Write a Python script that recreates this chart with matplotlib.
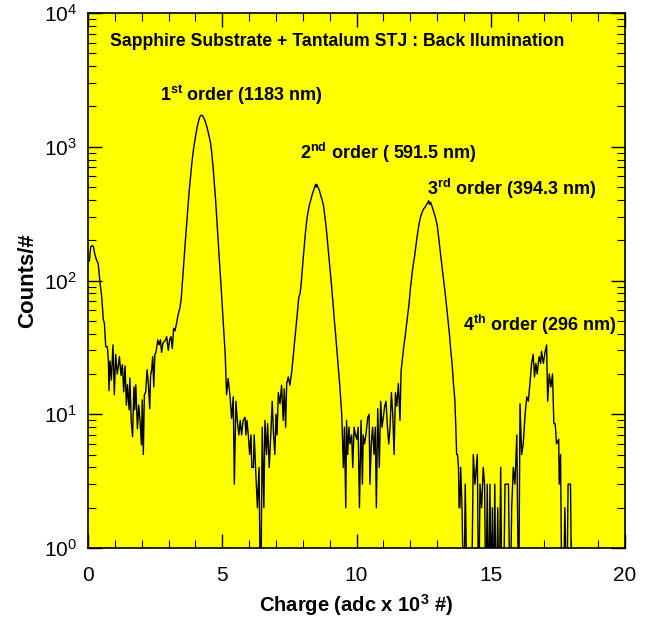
import numpy as np
import matplotlib
matplotlib.use("Agg")
import matplotlib.pyplot as plt
from matplotlib.ticker import LogLocator, MultipleLocator, NullFormatter

plt.rcParams['font.family'] = ['Liberation Sans', 'DejaVu Sans']
plt.rcParams['mathtext.fontset'] = 'custom'
plt.rcParams['mathtext.rm'] = 'Liberation Sans'
plt.rcParams['mathtext.bf'] = 'Liberation Sans:bold'
plt.rcParams['mathtext.it'] = 'Liberation Sans:italic'

# ---- data ----
charge = [
    0.05, 0.10, 0.15, 0.20, 0.26, 0.32, 0.38, 0.45, 0.51, 0.57, 0.61, 0.66, 0.72, 0.76, 0.78,
    0.82, 0.87, 0.93, 0.98, 1.03, 1.09, 1.13, 1.17, 1.23, 1.28, 1.33, 1.38, 1.43, 1.47, 1.53,
    1.56, 1.61, 1.66, 1.71, 1.74, 1.78, 1.84, 1.89, 1.94, 1.99, 2.02, 2.06, 2.10, 2.15, 2.20,
    2.25, 2.30, 2.33, 2.37, 2.41, 2.45, 2.49, 2.53, 2.60, 2.65, 2.70, 2.74, 2.79, 2.84, 2.89,
    2.93, 2.99, 3.04, 3.09, 3.14, 3.19,
    3.24, 3.30, 3.36, 3.42, 3.47, 3.52, 3.57, 3.62, 3.67, 3.72, 3.77, 3.82, 3.87, 3.92, 3.97,
    4.02, 4.07, 4.12, 4.17, 4.21, 4.26, 4.31, 4.36, 4.41, 4.46, 4.51, 4.56, 4.61, 4.66, 4.71,
    4.76, 4.81, 4.86, 4.91, 4.96, 5.01, 5.06, 5.11,
    5.16, 5.22, 5.29, 5.35, 5.41, 5.45, 5.51, 5.56, 5.62, 5.67, 5.72, 5.78, 5.85, 5.88, 5.92,
    5.97, 6.02, 6.07, 6.10, 6.16, 6.19, 6.24, 6.31, 6.37, 6.43, 6.49, 6.55, 6.59, 6.65, 6.69,
    6.75, 6.82, 6.86, 6.91, 6.96, 7.00, 7.04, 7.09, 7.15, 7.21, 7.27, 7.31, 7.36, 7.40, 7.46,
    7.52, 7.59,
    7.65, 7.70, 7.75, 7.80, 7.85, 7.90, 7.95, 8.00, 8.05, 8.10, 8.15, 8.20, 8.25, 8.30, 8.35,
    8.40, 8.45, 8.48, 8.50, 8.53, 8.57, 8.62, 8.67, 8.72, 8.77, 8.82, 8.87, 8.92, 8.97, 9.02,
    9.07, 9.12, 9.17, 9.22, 9.27, 9.32, 9.37, 9.42,
    9.45, 9.51, 9.55, 9.60, 9.63, 9.67, 9.72, 9.76, 9.82, 9.86, 9.91, 9.96, 10.01, 10.06, 10.11,
    10.17, 10.22, 10.25, 10.30, 10.35, 10.42, 10.47, 10.50, 10.55, 10.60, 10.65, 10.70, 10.74,
    10.79, 10.85, 10.90, 10.95, 11.00, 11.05, 11.10, 11.15, 11.20, 11.25, 11.30, 11.35, 11.40,
    11.45, 11.50, 11.56, 11.62, 11.66,
    11.71, 11.76, 11.81, 11.86, 11.91, 11.96, 12.01, 12.06, 12.11, 12.16, 12.21, 12.26, 12.31,
    12.36, 12.41, 12.46, 12.51, 12.56, 12.61, 12.66, 12.69, 12.72, 12.76, 12.81, 12.86, 12.91,
    12.96, 13.01, 13.06, 13.11, 13.16, 13.21, 13.26, 13.31, 13.36, 13.41, 13.46, 13.51, 13.56,
    13.61, 13.66,
    13.70, 13.73, 13.76, 13.80, 13.82, 13.85, 13.88, 13.93, 14.00, 14.05, 14.13, 14.20, 14.28,
    14.35, 14.41, 14.50, 14.55, 14.60, 14.66, 14.72, 14.77, 14.82, 14.87, 14.92, 14.97, 15.02,
    15.06, 15.10, 15.15, 15.20, 15.26, 15.31, 15.37, 15.42, 15.47, 15.53, 15.60, 15.66, 15.72,
    15.78, 15.84, 15.90, 15.97, 16.04,
    16.09, 16.15, 16.21, 16.28, 16.34, 16.40, 16.46, 16.52, 16.58, 16.63, 16.68, 16.73, 16.80,
    16.86, 16.89, 16.96, 17.02, 17.08, 17.12, 17.18, 17.24, 17.30, 17.35, 17.40, 17.45, 17.53,
    17.55, 17.60, 17.65, 17.70, 17.76, 17.83, 17.88, 17.97, 18.02,
]
counts = [
    140, 178, 182, 180, 155, 142, 134, 95, 76, 51, 48, 32, 32, 25, 15,
    25, 18, 33, 14, 28, 20, 23, 27, 19.5, 23.5, 14.7, 23, 11.7, 16.6, 10.8,
    18.7, 8.8, 6.8, 16, 10.8, 16.6, 7.8, 11.7, 8.8, 5.9, 12.8, 5, 14, 14.7, 21.5,
    16.6, 11, 19.5, 21.5, 27, 16, 28, 29, 36, 33, 36, 29, 34, 35, 36,
    38, 30, 36, 38, 31, 44,
    42, 48, 56, 62, 72, 100, 140, 190, 260, 350, 470, 600, 760, 930, 1080,
    1250, 1420, 1560, 1680, 1720, 1710, 1650, 1560, 1450, 1330, 1200, 1080, 900, 700, 520,
    380, 260, 180, 125, 88, 60, 40, 28,
    14, 18.5, 13.5, 9.3, 13.5, 3, 12.5, 9, 7, 9, 7, 9, 9.5, 7, 9,
    7, 5, 7, 4, 4, 7, 4, 2, 4, 0, 8, 2, 9, 5, 8.5,
    4, 8, 12.5, 7, 5, 10, 7, 14.5, 12, 16.5, 9, 15.5, 8, 17, 19,
    16.5, 21,
    28, 36, 46, 58, 75, 80, 100, 135, 175, 230, 285, 330, 370, 400, 440,
    470, 500, 525, 500, 520, 495, 470, 430, 400, 365, 300, 250, 195, 155, 120,
    92, 70, 52, 40, 30, 22, 17, 12,
    10, 4, 8, 2, 9, 5, 8, 6, 7, 4, 8, 7, 6.5, 8, 2,
    9, 3, 7, 6, 7, 9.5, 10, 3, 6, 8, 5, 8, 2,
    11, 4, 12.5, 8, 9.5, 11.5, 12.5, 8.2, 6, 8, 14.5, 10, 5,
    14.5, 11.5, 17, 9, 21,
    26, 32, 38, 46, 55, 68, 88, 108, 130, 150, 180, 215, 250,
    285, 310, 330, 345, 355, 370, 385, 395, 370, 385, 360, 335, 310,
    285, 255, 210, 170, 140, 115, 95, 78, 62, 50, 40, 30, 24,
    17, 13,
    8, 5, 5, 4, 2, 2, 4, 2, 0, 3, 0, 0, 0,
    5, 3, 5, 0, 3, 2, 4, 3, 0, 3, 0, 3, 0,
    2, 0, 3, 0, 2, 0, 4, 0, 0, 3, 3, 3, 0,
    2, 4, 3, 7, 0,
    12, 5, 6, 10, 13.5, 12.5, 17, 24, 28, 19, 24, 20, 27,
    24, 29.5, 24, 29, 33, 12.5, 20, 16, 20, 8.5, 8.5, 6, 6.5,
    3, 5, 0, 0, 2, 0, 3, 3, 0,
]

title_text = "Sapphire Substrate + Tantalum STJ : Back Ilumination"
peak_labels = [r"$\bf{1^{st}}$ order (1183 nm)",
               r"$\bf{2^{nd}}$ order ( 591.5 nm)",
               r"$\bf{3^{rd}}$ order (394.3 nm)",
               r"$\bf{4^{th}}$ order (296 nm)"]
label_x = [2.68, 7.88, 12.62, 13.95]
label_y = [2180, 810, 436, 42]

x = np.array(charge)
y = np.array(counts, dtype=float)
y_plot = np.where(y > 0, y, 0.3)

fig = plt.figure(figsize=(6.59, 6.27), dpi=100)
ax = fig.add_axes([88/659, (627-548)/627, (625-88)/659, (548-13)/627])
ax.set_facecolor('#FFFF00')
ax.plot(x, y_plot, color='black', lw=1.0)

ax.set_yscale('log')
ax.set_xlim(0, 20)
ax.set_ylim(1, 1e4)
ax.xaxis.set_major_locator(MultipleLocator(5))
ax.xaxis.set_minor_locator(MultipleLocator(1))
ax.yaxis.set_major_locator(LogLocator(base=10, numticks=10))
ax.yaxis.set_minor_locator(LogLocator(base=10, subs=np.arange(2, 10), numticks=20))
ax.yaxis.set_minor_formatter(NullFormatter())
ax.tick_params(which='both', direction='in', top=True, right=True, colors='black')
ax.tick_params(which='major', length=10, width=1, labelsize=15)
ax.tick_params(which='minor', length=5.5, width=0.8)
ax.tick_params(axis='x', which='major', pad=13)
ax.tick_params(axis='y', which='major', pad=8)
for s in ax.spines.values():
    s.set_linewidth(1.2)

ax.text(0.82, 5665, title_text, fontsize=12.7, fontweight='bold', va='baseline', ha='left')
for lx, ly, lt in zip(label_x, label_y, peak_labels):
    ax.text(lx, ly, lt, fontsize=13, fontweight='bold', va='baseline', ha='left')

ax.set_xlabel(r"Charge (adc x $\bf{10}^{3}$ #)", fontsize=14.5, fontweight='bold')
ax.xaxis.label.set_va('center')
ax.xaxis.set_label_coords(0.5, -0.1065)
ax.set_ylabel("Counts/#", fontsize=16, fontweight='bold')
ax.yaxis.label.set_va('center')
ax.yaxis.set_label_coords(-0.112, 0.5)

fig.savefig('out.png', dpi=100, facecolor='white')
